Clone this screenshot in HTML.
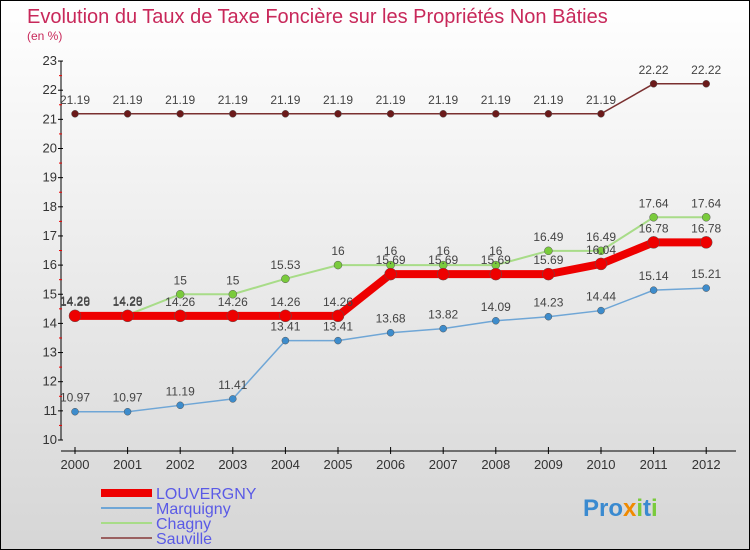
<!DOCTYPE html>
<html><head><meta charset="utf-8"><style>
body{margin:0}
#wrap{width:748px;height:548px;border:1px solid #000;background:linear-gradient(#fff,#d6d6d6);position:relative;font-family:"Liberation Sans",sans-serif;overflow:hidden}
</style></head><body>
<div id="wrap">
<svg id="c" width="748" height="548"></svg>
</div>
<script>
const years=["2000","2001","2002","2003","2004","2005","2006","2007","2008","2009","2010","2011","2012"];
const louvergny=[14.26,14.26,14.26,14.26,14.26,14.26,15.69,15.69,15.69,15.69,16.04,16.78,16.78];
const marquigny=[10.97,10.97,11.19,11.41,13.41,13.41,13.68,13.82,14.09,14.23,14.44,15.14,15.21];
const chagny=[14.29,14.29,15,15,15.53,16,16,16,16,16.49,16.49,17.64,17.64];
const sauville=[21.19,21.19,21.19,21.19,21.19,21.19,21.19,21.19,21.19,21.19,21.19,22.22,22.22];
const yTicks=[10,11,12,13,14,15,16,17,18,19,20,21,22,23];
const NS="http://www.w3.org/2000/svg";
const svg=document.getElementById('c');
function X(i){return 74+i*52.6;}
function Y(v){return 439-(v-10)*29.15;}
function mk(t,a,p){const e=document.createElementNS(NS,t);for(const k in a)e.setAttribute(k,a[k]);(p||svg).appendChild(e);return e;}
let t=mk('text',{x:26,y:22,'font-size':20,fill:'#c8285a'});t.textContent="Evolution du Taux de Taxe Foncière sur les Propriétés Non Bâties";

t=mk('text',{x:26,y:39,'font-size':12,fill:'#c8285a'});t.textContent="(en %)";

let ax=mk('line',{x1:60,y1:Y(23),x2:60,y2:Y(10),stroke:'#000','stroke-width':1});

yTicks.forEach(v=>{mk('line',{x1:57,x2:62,y1:Y(v),y2:Y(v),stroke:'#000'});
 if(v<23)mk('line',{x1:58,x2:61,y1:Y(v+0.5),y2:Y(v+0.5),stroke:'#e00'});
 const l=mk('text',{x:56,y:Y(v)+4,'font-size':13,fill:'#333','text-anchor':'end'});l.textContent=v;
 });
ax=mk('line',{x1:60,y1:450,x2:735,y2:450,stroke:'#000'});

years.forEach((y,i)=>{mk('line',{x1:X(i),x2:X(i),y1:446,y2:453,stroke:'#000'});
 const l=mk('text',{x:X(i),y:468,'font-size':13,fill:'#333','text-anchor':'middle'});l.textContent=y;
 });
function series(vals,color,lw,r,dot,name){
 const g=mk('g',{});
 mk('polyline',{points:vals.map((v,i)=>X(i)+','+Y(v)).join(' '),fill:'none',stroke:color,'stroke-width':lw},g);
 vals.forEach((v,i)=>{const c=mk('circle',{cx:X(i),cy:Y(v),r:r,fill:dot,stroke:'#555','stroke-width':0.5},g);
  
  const l=mk('text',{x:X(i),y:Y(v)-10,'font-size':12,fill:'#444','text-anchor':'middle'},g);l.textContent=v;
  });
}
series(sauville,'#7a3030',1.5,3.5,'#6b1a1a','sauville');
series(chagny,'#a8dc88',2,4,'#7acb3c','chagny');
series(marquigny,'#6fa6d6',1.5,3.5,'#3d8ccc','marquigny');
series(louvergny,'#ee0000',8,6,'#ee0000','louvergny');
const leg=[['LOUVERGNY','#ee0000',8],['Marquigny','#6fa6d6',2],['Chagny','#a8dc88',2],['Sauville','#9a6060',2]];
leg.forEach((d,i)=>{const y=492+i*15;const g=mk('g',{});
 
 mk('line',{x1:100,x2:151,y1:y,y2:y,stroke:d[1],'stroke-width':d[2]},g);
 const l=mk('text',{x:155,y:y+6,'font-size':16,fill:'#5a5ae6'},g);l.textContent=d[0];});
t=mk('text',{x:582,y:515,'font-size':24,'font-weight':'bold',fill:'#3a8ad0'});

[['Pro','#3a8ad0'],['x','#f08a00'],['i','#7acb3c'],['t','#3a8ad0'],['i','#7acb3c']].forEach(p=>{const s=mk('tspan',{fill:p[1]},t);s.textContent=p[0];});
</script>
</body></html>
